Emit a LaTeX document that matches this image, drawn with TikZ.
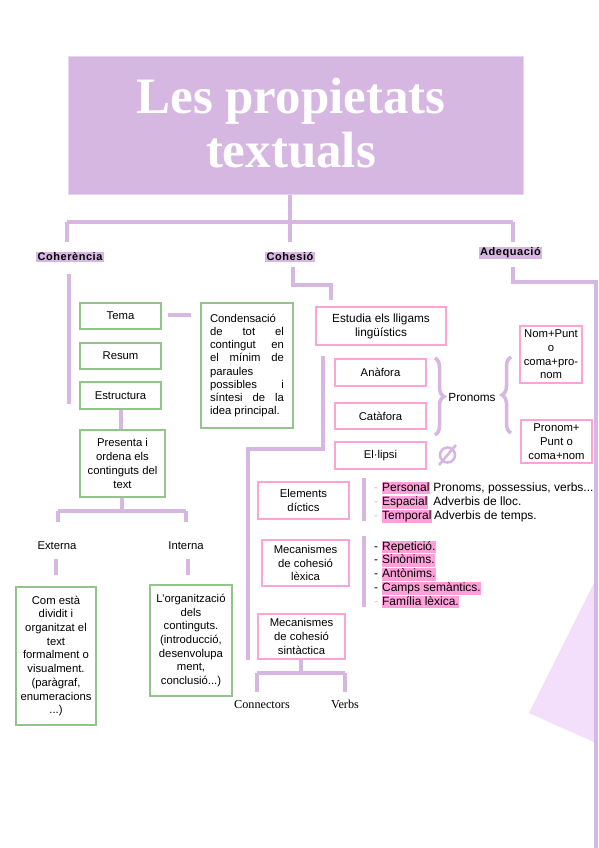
\documentclass[tikz,border=0pt]{standalone}
\usepackage{fontspec}
\setsansfont{Liberation Sans}
\newfontfamily\timesf{Liberation Serif}
\newfontfamily\hdfont[LetterSpace=5]{Liberation Sans}
\usetikzlibrary{decorations.pathreplacing}
\definecolor{purp}{RGB}{214,183,225}
\definecolor{titlebd}{RGB}{230,212,238}
\definecolor{gbd}{RGB}{147,196,140}
\definecolor{pbd}{RGB}{255,163,214}
\definecolor{hlp}{RGB}{255,160,218}
\definecolor{tri}{RGB}{243,222,251}
\newcommand\bxfont{\fontsize{11.3}{13.7}\selectfont\sffamily}
\newcommand\lsfont{\fontsize{12}{14}\selectfont\sffamily}
\newcommand\hlw[1]{{\setlength{\fboxsep}{0.6pt}\colorbox{hlp}{\vphantom{Ag}#1}}}
\newcommand\jl[1]{\hbox to 74pt{#1}}
\tikzset{
  titlebox/.style={draw=titlebd, line width=1pt, fill=purp, minimum width=455, minimum height=137, inner sep=0pt},
  titletext/.style={text=white, align=center, inner sep=0pt, font=\fontsize{51}{54}\selectfont\timesf\bfseries},
  gbox/.style={draw=gbd, line width=2.6pt, fill=white, inner sep=0pt, align=center, font=\bxfont},
  pbox/.style={draw=pbd, line width=2.6pt, fill=white, inner sep=0pt, align=center, font=\bxfont},
  pl/.style={draw=purp, line width=4.5pt},
  hd/.style={fill=purp, inner sep=1.2pt, font=\fontsize{11}{13}\selectfont\hdfont\bfseries},
  plain/.style={inner sep=0pt, align=center, font=\bxfont},
  serif/.style={inner sep=0pt, font=\fontsize{12.2}{14}\selectfont\timesf},
  lst/.style={anchor=base west, inner sep=0pt, font=\lsfont},
  br/.style={draw=purp, line width=3.5pt, decorate, decoration={brace, amplitude=9pt}},
}
\begin{document}
\begin{tikzpicture}[x=1pt,y=-1pt]
\useasboundingbox (0,0) rectangle (599,848);
\fill[white] (0,0) rectangle (599,848);
% decorative triangle
\fill[tri] (597,577) -- (529,713) -- (596,743) -- cycle;

% title
\node[titlebox] (title) at (295.5,125.5) {};
\node[titletext] (titlet) at (291,123) {Les propietats\\textuals};

% headings
\node[hd] (coh) at (70,257) {Coherència};
\node[hd] (cohs) at (290,257) {Cohesió};
\node[hd] (adq) at (510.5,253) {Adequació};

% top tree
\coordinate (t0) at (290,194);
\coordinate (t1) at (290,222);
\coordinate (tl) at (67,222);
\coordinate (tr) at (513,222);
\draw[pl] (title.south -| t0) -- (t1);
\draw[pl] (tl) -- (tr);
\draw[pl] (tl) -- (67,242);
\draw[pl] (t1) -- (290,242);
\draw[pl] (tr) -- (513,242);

% ===== Coherencia =====
\draw[pl] (69,274) -- (69,404);
\node[gbox, minimum width=81, minimum height=26] (tema) at (120.5,316) {Tema};
\node[gbox, minimum width=81, minimum height=26] (resum) at (120.5,356) {Resum};
\node[gbox, minimum width=81, minimum height=27] (estr) at (120.5,395.5) {Estructura};
\node[gbox, minimum width=92, minimum height=125] (cond) at (247,365.5) {%
  \begin{minipage}{74pt}\fontsize{11.3}{13.1}\selectfont\sffamily
  \jl{Condensació\hfill}
  \jl{de\hfill tot\hfill el}
  \jl{contingut\hfill en}
  \jl{el\hfill mínim\hfill de}
  \jl{paraules\hfill}
  \jl{possibles\hfill i}
  \jl{síntesi\hfill de\hfill la}
  \jl{idea principal.\hfill}
  \end{minipage}};
\draw[pl] (168,315) -- (191,315);
\node[gbox, minimum width=85, minimum height=67] (pres) at (122.5,463.5) {Presenta i\\ordena els\\continguts del\\text};
\draw[pl] (estr.south -| 121,0) -- (pres.north -| 121,0);
\coordinate (p0) at (122,511);
\draw[pl] (pres.south -| p0) -- (p0);
\draw[pl] (58,511) -- (186,511);
\draw[pl] (58,511) -- (58,522);
\draw[pl] (186,511) -- (186,522);
\node[plain] (ext) at (57,546) {Externa};
\node[plain] (int) at (186,546) {Interna};
\draw[pl] (56,559) -- (56,575);
\draw[pl] (188,559) -- (188,575);
\node[gbox, minimum width=80, minimum height=138] (com) at (56,656) {Com està\\dividit i\\organitzat el\\text\\formalment o\\visualment.\\(paràgraf,\\enumeracions\\...)};
\node[gbox, minimum width=82, minimum height=111] (org) at (191,640.5) {L'organització\\dels\\continguts.\\(introducció,\\desenvolupa\\ment,\\conclusió...)};

% ===== Cohesio =====
\draw[pl] (293,267) -- (293,285) -- (331,285) -- (331,300);
\node[pbox, minimum width=130, minimum height=38, font=\fontsize{11.8}{14}\selectfont\sffamily] (est) at (381,326) {Estudia els lligams\\lingüístics};
\draw[pl] (323,356) -- (323,449) -- (248,449) -- (248,660);
\node[pbox, minimum width=91, minimum height=27] (ana) at (380.5,372.5) {Anàfora};
\node[pbox, minimum width=91, minimum height=26] (cat) at (380.5,416) {Catàfora};
\node[pbox, minimum width=91, minimum height=27] (ell) at (380.5,455.5) {El·lipsi};
\draw[br] (435,358) -- (435,435);
\node[plain, font=\fontsize{11.8}{14}\selectfont\sffamily] (pron) at (472,397) {Pronoms};
\draw[br] (511,433) -- (511,357);
\node[pbox, minimum width=62, minimum height=57] (np) at (551,354.5) {Nom+Punt\\o\\coma+pro-\\nom};
\node[pbox, minimum width=71, minimum height=43] (pp) at (556.5,441.5) {Pronom+\\Punt o\\coma+nom};
% empty set symbol
\draw[purp, line width=2.6pt] (447.5,455) circle[radius=7.5];
\draw[purp, line width=2.6pt] (439,465) -- (456,445);

\node[pbox, minimum width=91, minimum height=37] (dic) at (303.5,500.5) {Elements\\díctics};
\node[pbox, minimum width=87, minimum height=46] (lex) at (305.5,563) {Mecanismes\\de cohesió\\lèxica};
\node[pbox, minimum width=87, minimum height=45] (sin) at (301.5,636.5) {Mecanismes\\de cohesió\\sintàctica};

\draw[pl] (364,478) -- (364,521);
\draw[pl] (364,536) -- (364,607);
\node[lst] (l1) at (374,491) {{\color{pbd}-} \hlw{Personal} Pronoms, possessius, verbs...};
\node[lst] (l2) at (374,505.5) {{\color{pbd}-} \hlw{Espacial}\, Adverbis de lloc.};
\node[lst] (l3) at (374,519.5) {{\color{pbd}-} \hlw{Temporal}\,Adverbis de temps.};
\node[lst] (m1) at (374,550) {- \hlw{Repetició.}};
\node[lst] (m2) at (374,563.5) {- \hlw{Sinònims.}};
\node[lst] (m3) at (374,577.5) {- \hlw{Antònims.}};
\node[lst] (m4) at (374,591.5) {- \hlw{Camps semàntics.}};
\node[lst] (m5) at (374,605) {{\color{pbd}-} \hlw{Família lèxica.}};

\coordinate (s0) at (301,673);
\draw[pl] (sin.south -| s0) -- (s0);
\draw[pl] (257,673) -- (345,673);
\draw[pl] (257,673) -- (257,692);
\draw[pl] (345,673) -- (345,692);
\node[serif] (conn) at (262,705) {Connectors};
\node[serif] (verbs) at (345,704) {Verbs};

% ===== Adequacio =====
\draw[pl] (513,267) -- (513,282) -- (596,282) -- (596,850);
\end{tikzpicture}
\end{document}
